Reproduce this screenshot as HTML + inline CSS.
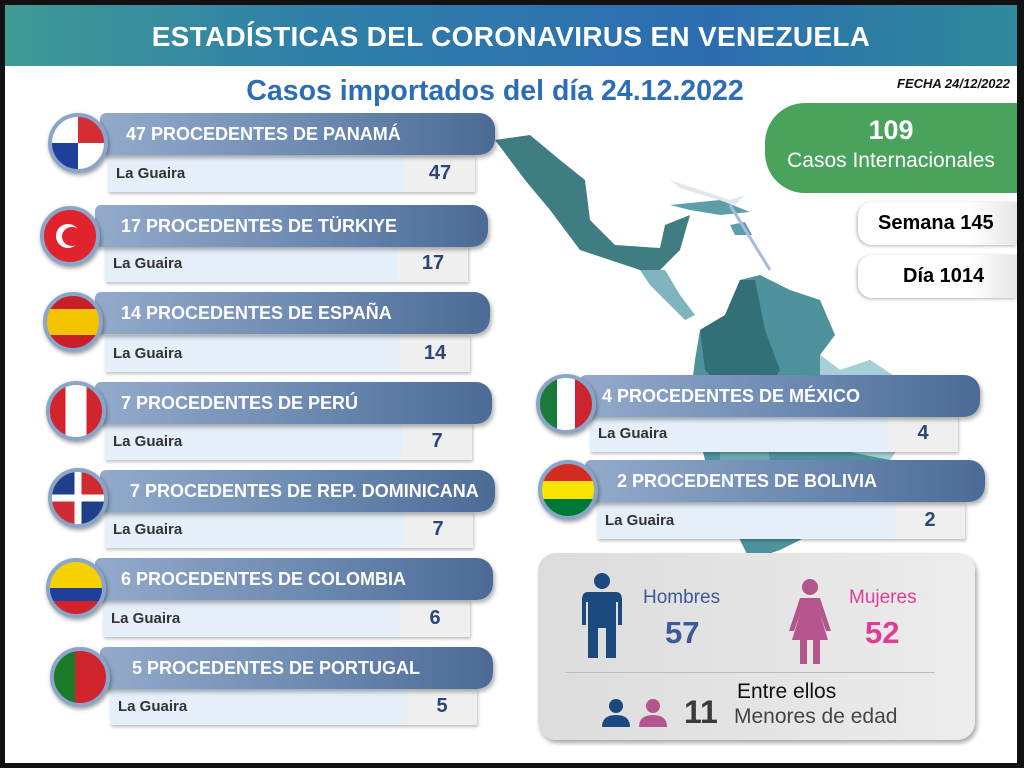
<!DOCTYPE html>
<html><head><meta charset="utf-8"><style>
*{margin:0;padding:0;box-sizing:border-box}
body{width:1024px;height:768px;background:#111;position:relative;overflow:hidden;font-family:"Liberation Sans",sans-serif}
.page{position:absolute;left:5px;top:5px;width:1012px;height:758px;background:#fff}
.abs{position:absolute}
.hdr{left:5px;top:5px;width:1012px;height:61px;background:linear-gradient(90deg,#3f9a94,#2f7fa8 30%,#2c6db0 70%,#2f8a9a);color:#fff;font-weight:bold;font-size:28px;text-align:center;line-height:64px;letter-spacing:.3px}
.sub{left:0;width:990px;top:75px;text-align:center;color:#2d6db5;font-weight:bold;font-size:28.5px}
.fecha{right:14px;top:76px;font-style:italic;font-weight:bold;font-size:13px;color:#111}
.bar{height:42px;border-radius:6px 16px 16px 6px;background:linear-gradient(90deg,#93aacb,#6f8cb3 50%,#4b6b96);color:#fff;font-weight:bold;font-size:18px;line-height:42px;padding-left:26px;box-shadow:2px 3px 4px rgba(0,0,0,.3);white-space:nowrap}
.row{height:37px;background:#e4eff9;box-shadow:1px 2px 3px rgba(0,0,0,.25);font-weight:bold;font-size:15px;color:#333;line-height:37px;padding-left:8px}
.row .n{position:absolute;right:0;top:0;width:70px;height:37px;background:#efefef;text-align:center;color:#2e4577;font-size:20px}
.flag{width:60px;height:60px;border-radius:50%;border:4px solid #8aa5c8;box-shadow:1px 2px 4px rgba(0,0,0,.4);overflow:hidden}
</style></head><body>
<div class="page"></div>
<!-- map -->
<svg class="abs" style="left:490px;top:130px" width="420" height="430" viewBox="0 0 420 430">
<path d="M5,10 L40,5 L70,30 L95,50 L100,90 L125,115 L170,118 L175,95 L200,85 L190,120 L170,140 L150,140 L120,130 L90,120 L60,80 L35,50 Z" fill="#3f7d82"/>
<path d="M150,140 L175,140 L190,165 L205,185 L195,190 L175,170 L160,155 Z" fill="#7fb4bf"/>
<path d="M180,75 L230,70 L260,82 L230,85 L200,80 Z" fill="#5d9fa8"/>
<path d="M240,95 L255,92 L262,105 L245,105 Z" fill="#5d9fa8"/>
<path d="M210,200 L235,185 L250,150 L270,145 L300,160 L330,170 L345,205 L330,225 L350,240 L380,230 L410,250 L420,300 L400,330 L370,360 L330,400 L290,420 L260,430 L240,390 L215,330 L200,270 L205,230 Z" fill="#4e939c"/>
<path d="M210,200 L235,185 L250,150 L265,150 L275,200 L290,240 L270,270 L240,265 L215,240 Z" fill="#336f77"/>
<path d="M330,225 L350,240 L380,230 L410,250 L420,300 L400,330 L350,320 L330,280 Z" fill="#a6cfd6"/>
<path d="M230,260 L270,270 L280,330 L260,350 L230,330 Z" fill="#6aa9b3"/>
<line x1="240" y1="75" x2="280" y2="140" stroke="#a9b8e0" stroke-width="3"/>
<path d="M180,50 L240,70 L255,65 L245,75 L190,58 Z" fill="#dfe7ef"/>
</svg>
<div class="abs hdr">ESTADÍSTICAS DEL CORONAVIRUS EN VENEZUELA</div>
<div class="abs sub">Casos importados del día 24.12.2022</div>
<div class="abs fecha">FECHA 24/12/2022</div>

<div class="abs" style="left:765px;top:103px;width:252px;height:90px;background:#4aa35c;border-radius:40px 0 0 40px;color:#fff;text-align:center">
<div style="font-weight:bold;font-size:27px;margin-top:12px">109</div><div style="font-size:21px;margin-top:3px">Casos Internacionales</div></div>
<div class="abs" style="left:858px;top:202px;width:159px;height:43px;border-radius:14px 0 0 14px;background:linear-gradient(90deg,#fff,#fff 70%,#e6e6e6);box-shadow:-1px 1px 3px rgba(0,0,0,.3);font-weight:bold;font-size:20px;line-height:43px;padding-left:20px">Semana 145</div>
<div class="abs" style="left:858px;top:255px;width:159px;height:43px;border-radius:14px 0 0 14px;background:linear-gradient(90deg,#fff,#fff 70%,#e6e6e6);box-shadow:-1px 1px 3px rgba(0,0,0,.3);font-weight:bold;font-size:20px;line-height:43px;padding-left:45px">Día 1014</div>

<!-- cards -->
<div class="abs row" style="left:108px;top:155px;width:367px">La Guaira<div class="n">47</div></div>
<div class="abs bar" style="left:100px;top:113px;width:395px">47 PROCEDENTES DE PANAMÁ</div>
<div class="abs flag" style="left:48px;top:113px;background:conic-gradient(#d42d33 0 90deg,#fff 90deg 180deg,#1f3f9a 180deg 270deg,#fff 270deg)"></div>

<div class="abs row" style="left:105px;top:245px;width:363px">La Guaira<div class="n">17</div></div>
<div class="abs bar" style="left:95px;top:205px;width:393px">17 PROCEDENTES DE TÜRKIYE</div>
<div class="abs flag" style="left:40px;top:206px;background:#e0232c"><div style="position:absolute;left:12px;top:14px;width:24px;height:24px;border-radius:50%;background:#fff"></div><div style="position:absolute;left:18px;top:17px;width:20px;height:19px;border-radius:50%;background:#e0232c"></div></div>

<div class="abs row" style="left:105px;top:335px;width:365px">La Guaira<div class="n">14</div></div>
<div class="abs bar" style="left:95px;top:292px;width:395px">14 PROCEDENTES DE ESPAÑA</div>
<div class="abs flag" style="left:43px;top:292px;background:linear-gradient(#c8202a 25%,#f5c400 25% 75%,#c8202a 75%)"></div>

<div class="abs row" style="left:105px;top:423px;width:367px">La Guaira<div class="n">7</div></div>
<div class="abs bar" style="left:95px;top:382px;width:397px">7 PROCEDENTES DE PERÚ</div>
<div class="abs flag" style="left:46px;top:381px;background:linear-gradient(90deg,#d2242c 30%,#fff 30% 70%,#d2242c 70%)"></div>

<div class="abs row" style="left:105px;top:511px;width:368px">La Guaira<div class="n">7</div></div>
<div class="abs bar" style="left:100px;top:470px;width:395px;padding-left:30px">7 PROCEDENTES DE REP. DOMINICANA</div>
<div class="abs flag" style="left:48px;top:468px;background:linear-gradient(90deg,transparent 43%,#fff 43% 57%,transparent 57%),linear-gradient(transparent 43%,#fff 43% 57%,transparent 57%),conic-gradient(#d02b33 0 90deg,#1f3f8a 90deg 180deg,#d02b33 180deg 270deg,#1f3f8a 270deg)"></div>

<div class="abs row" style="left:103px;top:600px;width:367px">La Guaira<div class="n">6</div></div>
<div class="abs bar" style="left:95px;top:558px;width:398px">6 PROCEDENTES DE COLOMBIA</div>
<div class="abs flag" style="left:46px;top:558px;background:linear-gradient(#f6d000 50%,#1f3f9a 50% 75%,#d2242c 75%)"></div>

<div class="abs row" style="left:110px;top:688px;width:367px">La Guaira<div class="n">5</div></div>
<div class="abs bar" style="left:100px;top:647px;width:393px;padding-left:32px">5 PROCEDENTES DE PORTUGAL</div>
<div class="abs flag" style="left:50px;top:647px;background:linear-gradient(90deg,#1b7a2a 40%,#d2242c 40%)"></div>

<div class="abs row" style="left:590px;top:415px;width:368px">La Guaira<div class="n">4</div></div>
<div class="abs bar" style="left:580px;top:375px;width:400px;padding-left:22px">4 PROCEDENTES DE MÉXICO</div>
<div class="abs flag" style="left:536px;top:374px;background:linear-gradient(90deg,#1b7a3a 33%,#fff 33% 67%,#cc2430 67%)"></div>

<div class="abs row" style="left:597px;top:502px;width:368px">La Guaira<div class="n">2</div></div>
<div class="abs bar" style="left:585px;top:460px;width:400px;padding-left:32px">2 PROCEDENTES DE BOLIVIA</div>
<div class="abs flag" style="left:538px;top:460px;background:linear-gradient(#d52b1e 33%,#f9e300 33% 67%,#007934 67%)"></div>

<!-- gender panel -->
<div class="abs" style="left:538px;top:553px;width:437px;height:187px;border-radius:18px;background:linear-gradient(90deg,#dcdcdc,#ececec);box-shadow:2px 3px 5px rgba(0,0,0,.35)"></div>
<svg class="abs" style="left:580px;top:570px" width="45" height="90" viewBox="0 0 45 90"><circle cx="22" cy="11" r="8" fill="#1c4a7e"/><path d="M8,22 H36 Q42,22 42,30 V55 H38 V32 H36 V88 H26 V58 H18 V88 H8 V32 H6 V55 H2 V30 Q2,22 8,22Z" fill="#1c4a7e"/></svg>
<svg class="abs" style="left:788px;top:576px" width="45" height="90" viewBox="0 0 45 90"><circle cx="22" cy="11" r="8" fill="#b4568e"/><path d="M12,22 H32 L43,55 H38 L32,38 L40,64 H32 V88 H25 V64 H19 V88 H12 V64 H4 L12,38 L6,55 H1 Z" fill="#b4568e"/></svg>
<div class="abs" style="left:643px;top:587px;color:#3a5a9a;font-size:19px">Hombres</div>
<div class="abs" style="left:665px;top:615px;color:#3a5a9a;font-size:31px;font-weight:bold">57</div>
<div class="abs" style="left:849px;top:587px;color:#e03d98;font-size:19px">Mujeres</div>
<div class="abs" style="left:865px;top:615px;color:#e03d98;font-size:31px;font-weight:bold">52</div>
<div class="abs" style="left:565px;top:672px;width:370px;height:1px;background:#bbb"></div>
<svg class="abs" style="left:602px;top:697px" width="70" height="32" viewBox="0 0 70 32"><circle cx="14" cy="9" r="7" fill="#1c4a7e"/><path d="M0,30 Q0,18 14,18 Q28,18 28,30Z" fill="#1c4a7e"/><circle cx="51" cy="9" r="7" fill="#b4568e"/><path d="M37,30 Q37,18 51,18 Q65,18 65,30Z" fill="#b4568e"/></svg>
<div class="abs" style="left:684px;top:694px;color:#3a3a3a;font-size:32px;font-weight:bold">11</div>
<div class="abs" style="left:737px;top:680px;color:#111;font-size:21px">Entre ellos</div>
<div class="abs" style="left:734px;top:705px;color:#444;font-size:21px">Menores de edad</div>
</body></html>
